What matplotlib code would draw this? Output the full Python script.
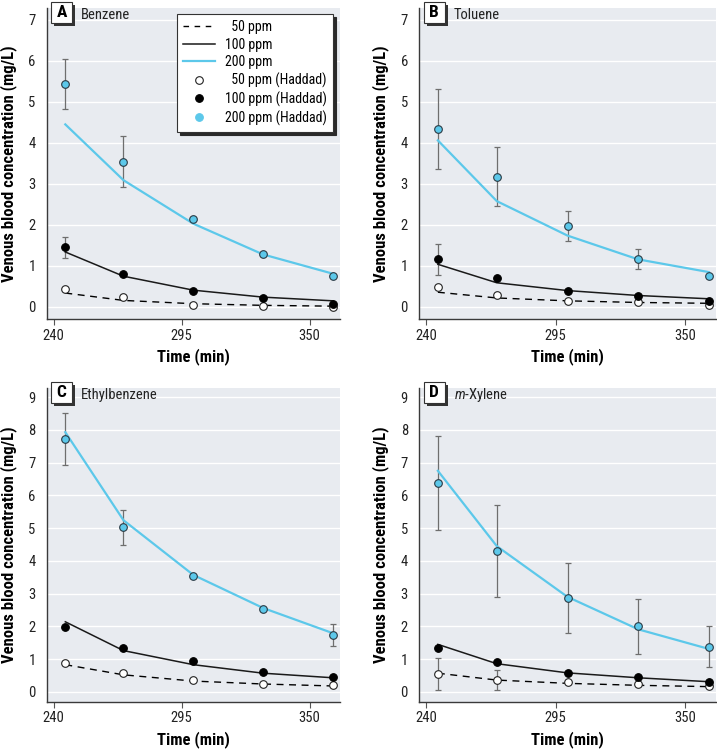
import numpy as np
import matplotlib
matplotlib.use('Agg')
import matplotlib.pyplot as plt
from matplotlib.lines import Line2D
from matplotlib.patches import Rectangle

# --- Fonts / style ---
FONT = ['Roboto Condensed', 'DejaVu Sans']
plt.rcParams['font.family'] = FONT
plt.rcParams['mathtext.fontset'] = 'custom'
plt.rcParams['mathtext.rm'] = 'Roboto Condensed'
plt.rcParams['mathtext.it'] = 'Roboto Condensed:italic'

BG = '#e8ebf0'
CYAN = '#5cc8ea'
ERR_COLOR = '#6e6e6e'
SPINE = '#3a3a3a'

# --- Data ---
times = [245, 270, 300, 330, 360]
panel_letters = ['A', 'B', 'C', 'D']
panel_names = ['Benzene', 'Toluene', 'Ethylbenzene', r'$\it{m}$-Xylene']

# model curves
model_50 = [
    [0.34, 0.16, 0.08, 0.04, 0.02],
    [0.36, 0.22, 0.15, 0.11, 0.09],
    [0.83, 0.52, 0.33, 0.24, 0.18],
    [0.57, 0.36, 0.26, 0.20, 0.16],
]
model_100 = [
    [1.34, 0.75, 0.41, 0.24, 0.15],
    [1.04, 0.59, 0.40, 0.28, 0.20],
    [2.14, 1.26, 0.83, 0.57, 0.43],
    [1.45, 0.86, 0.58, 0.43, 0.31],
]
model_200 = [
    [4.45, 3.09, 2.03, 1.28, 0.81],
    [4.06, 2.58, 1.74, 1.16, 0.85],
    [7.93, 5.24, 3.57, 2.56, 1.79],
    [6.75, 4.45, 2.90, 1.91, 1.31],
]

# Haddad measurements
haddad_50 = [
    [0.44, 0.24, 0.06, 0.02, 0.00],
    [0.49, 0.30, 0.14, 0.11, 0.06],
    [0.88, 0.57, 0.36, 0.24, 0.20],
    [0.55, 0.37, 0.31, 0.23, 0.18],
]
haddad_100 = [
    [1.45, 0.80, 0.40, 0.22, 0.08],
    [1.16, 0.71, 0.38, 0.27, 0.15],
    [1.99, 1.34, 0.93, 0.62, 0.46],
    [1.33, 0.92, 0.58, 0.44, 0.31],
]
haddad_200 = [
    [5.43, 3.54, 2.15, 1.29, 0.75],
    [4.34, 3.18, 1.97, 1.17, 0.75],
    [7.73, 5.02, 3.55, 2.53, 1.74],
    [6.38, 4.31, 2.88, 2.00, 1.38],
]

# error bars (SD); 0 = none drawn
err_50 = [
    [0, 0, 0, 0, 0],
    [0, 0, 0, 0, 0],
    [0, 0, 0, 0, 0],
    [0.49, 0.31, 0, 0, 0],
]
err_100 = [
    [0.26, 0, 0, 0, 0],
    [0.38, 0, 0, 0, 0],
    [0, 0, 0, 0, 0],
    [0, 0, 0, 0, 0],
]
err_200 = [
    [0.61, 0.62, 0, 0, 0],
    [0.97, 0.71, 0.36, 0.25, 0],
    [0.79, 0.53, 0, 0, 0.33],
    [1.44, 1.41, 1.07, 0.84, 0.62],
]

y_max = [7, 7, 9, 9]
x_ticks = [240, 295, 350]

# axes rectangles in figure fractions
AX_POS = [
    [0.0651, 0.5754, 0.4091, 0.4136],
    [0.5844, 0.5754, 0.4142, 0.4136],
    [0.0651, 0.0669, 0.4091, 0.4172],
    [0.5844, 0.0669, 0.4142, 0.4172],
]


def draw_errors(ax, y, err):
    xs = [t for t, e in zip(times, err) if e > 0]
    ys = [v for v, e in zip(y, err) if e > 0]
    es = [e for e in err if e > 0]
    if xs:
        ax.errorbar(xs, ys, yerr=es, fmt='none', ecolor=ERR_COLOR,
                    elinewidth=0.9, capsize=2.5, capthick=0.9, zorder=2)


def letter_box(ax, letter):
    # box ~21 px square, sticking ~6 px above the plot area, with a dark drop shadow
    w_px, h_px = ax.bbox.width, ax.bbox.height
    size, left, top, sh = 21.0, 4.5, 6.0, 3.0
    x0 = left / w_px
    y0 = 1 + (top - size) / h_px
    bw, bh = size / w_px, size / h_px
    ax.add_patch(Rectangle((x0 + sh / w_px, y0 - sh / h_px), bw, bh, transform=ax.transAxes,
                           fc='#333333', ec='none', clip_on=False, zorder=5))
    ax.add_patch(Rectangle((x0, y0), bw, bh, transform=ax.transAxes,
                           fc='white', ec='#333333', lw=0.8, clip_on=False, zorder=6))
    ax.text(x0 + bw / 2, y0 + bh / 2, letter, transform=ax.transAxes, fontsize=12.5,
            fontweight='bold', ha='center', va='center', color='black', zorder=7)


def draw_panel(ax, i):
    ax.set_facecolor(BG)

    ax.plot(times, model_50[i], color='black', lw=1.0, ls=(0, (5, 4)), zorder=3)
    ax.plot(times, model_100[i], color='#1a1a1a', lw=1.1, zorder=3)
    ax.plot(times, model_200[i], color=CYAN, lw=1.6, zorder=3)

    draw_errors(ax, haddad_50[i], err_50[i])
    draw_errors(ax, haddad_100[i], err_100[i])
    draw_errors(ax, haddad_200[i], err_200[i])

    ax.plot(times, haddad_50[i], 'o', ms=5.5, mfc='white', mec='#222222', mew=0.8, zorder=4)
    ax.plot(times, haddad_100[i], 'o', ms=5.5, mfc='black', mec='black', mew=0.8, zorder=4)
    ax.plot(times, haddad_200[i], 'o', ms=5.5, mfc=CYAN, mec='#2a3a44', mew=0.8, zorder=4)

    ax.set_xlim(237, 363)
    ax.set_ylim(-0.3, y_max[i] + 0.28)
    ax.set_xticks(x_ticks)
    ax.set_yticks(range(0, y_max[i] + 1))
    ax.grid(axis='y', color='white', lw=1.0)
    ax.set_axisbelow(True)

    for s in ['top', 'right']:
        ax.spines[s].set_visible(False)
    for s in ['left', 'bottom']:
        ax.spines[s].set_color(SPINE)
        ax.spines[s].set_linewidth(1.0)
    ax.tick_params(axis='y', length=0, labelsize=10.5, pad=8, labelcolor='#222222')
    ax.tick_params(axis='x', length=4, width=0.8, color='#555555', labelsize=10.5,
                   pad=3, labelcolor='#222222')

    ax.set_xlabel('Time (min)', fontsize=12, fontweight='bold', labelpad=4)
    ax.set_ylabel('Venous blood concentration (mg/L)', fontsize=12,
                  fontweight='bold', labelpad=8)

    letter_box(ax, panel_letters[i])
    ax.text(0.117, 0.978, panel_names[i], transform=ax.transAxes, fontsize=10.5,
            ha='left', va='center', color='#222222', zorder=6)


def add_legend(ax):
    handles = [
        Line2D([], [], color='black', lw=1.0, ls=(0, (4, 4))),
        Line2D([], [], color='#1a1a1a', lw=1.1),
        Line2D([], [], color=CYAN, lw=1.6),
        Line2D([], [], ls='none', marker='o', ms=5.5, mfc='white', mec='#222222', mew=0.8),
        Line2D([], [], ls='none', marker='o', ms=5.5, mfc='black', mec='black', mew=0.8),
        Line2D([], [], ls='none', marker='o', ms=5.5, mfc=CYAN, mec=CYAN, mew=0.8),
    ]
    labels = ['  50 ppm', '100 ppm', '200 ppm',
              '  50 ppm (Haddad)', '100 ppm (Haddad)', '200 ppm (Haddad)']
    leg = ax.legend(handles, labels, loc='upper right', fontsize=10,
                    bbox_to_anchor=(0.976, 0.982), borderaxespad=0,
                    frameon=True, fancybox=False,
                    handlelength=2.3, handletextpad=0.7, labelspacing=0.25,
                    borderpad=0.45, framealpha=1,
                    shadow={'color': '#2a2a2a', 'alpha': 1})
    leg.get_frame().set_edgecolor('#333333')
    leg.get_frame().set_linewidth(0.8)
    leg.set_zorder(10)


def main():
    fig = plt.figure(figsize=(7.17, 7.52), dpi=100)
    axes = [fig.add_axes(p) for p in AX_POS]
    for i, ax in enumerate(axes):
        draw_panel(ax, i)
    add_legend(axes[0])
    fig.savefig('out.png', dpi=100, facecolor='white')


if __name__ == "__main__":
    main()
